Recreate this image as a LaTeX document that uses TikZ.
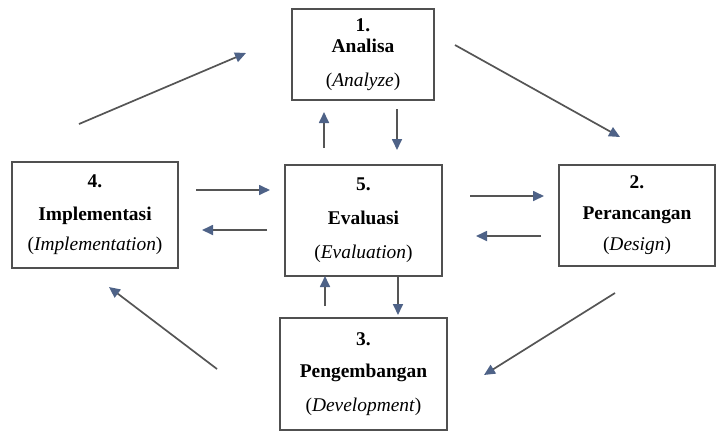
\documentclass[tikz,border=0pt]{standalone}
\usepackage{fontspec}
\setmainfont{Liberation Serif}
\usetikzlibrary{arrows.meta, positioning}
\definecolor{linegray}{RGB}{85,85,85}
\definecolor{tipblue}{RGB}{78,98,135}
\definecolor{boxgray}{RGB}{80,80,80}

\begin{document}
\begin{tikzpicture}[x=1bp,y=-1bp,
	phase/.style={draw=boxgray, line width=1.6bp, align=center, inner sep=0pt,
		font=\fontsize{19.5}{22}\selectfont},
	flow/.style={draw=linegray, line width=1.7bp,
		-{Triangle[length=11bp,width=10bp,fill=tipblue,color=tipblue]}}]
	\useasboundingbox (0,0) rectangle (719,432);

	% Phase boxes
	\node[phase, minimum width=142bp, minimum height=91bp] (analisa) at (363,54.5)
		{\textbf{1.}\\[-1pt]\textbf{Analisa}\\[12pt](\textit{Analyze})};
	\node[phase, minimum width=156bp, minimum height=101bp] (desain) at (637,215.5)
		{\textbf{2.}\\[9pt]\textbf{Perancangan}\\[9pt](\textit{Design})};
	\node[phase, minimum width=167bp, minimum height=112bp] (kembang) at (363.5,374)
		{\textbf{3.}\\[10pt]\textbf{Pengembangan}\\[12pt](\textit{Development})};
	\node[phase, minimum width=166bp, minimum height=106bp] (implement) at (95,215)
		{\textbf{4.}\\[11pt]\textbf{Implementasi}\\[8pt](\textit{Implementation})};
	\node[phase, minimum width=157bp, minimum height=111bp] (evaluasi) at (363.5,220.5)
		{\textbf{5.}\\[12pt]\textbf{Evaluasi}\\[12pt](\textit{Evaluation})};

	% Cycle arrows
	\coordinate (cycA1) at (79,124);   \coordinate (cycA2) at (246,53);
	\coordinate (cycB1) at (455,45);   \coordinate (cycB2) at (620,137);
	\coordinate (cycC1) at (615,293);  \coordinate (cycC2) at (484,375);
	\coordinate (cycD1) at (217,369);  \coordinate (cycD2) at (109,287);
	\draw[flow] (cycA1) -- (cycA2);
	\draw[flow] (cycB1) -- (cycB2);
	\draw[flow] (cycC1) -- (cycC2);
	\draw[flow] (cycD1) -- (cycD2);

	% Arrows to and from evaluation
	\coordinate (evR1) at (470,196);  \coordinate (evR2) at (544,196);
	\coordinate (evR3) at (541,236);  \coordinate (evR4) at (476,236);
	\coordinate (evL1) at (196,190);  \coordinate (evL2) at (270,190);
	\coordinate (evL3) at (267,230);  \coordinate (evL4) at (202,230);
	\coordinate (evT1) at (324,148);  \coordinate (evT2) at (324,112);
	\coordinate (evT3) at (397,109);  \coordinate (evT4) at (397,150);
	\coordinate (evB1) at (325,306);  \coordinate (evB2) at (325,276);
	\coordinate (evB3) at (398,277);  \coordinate (evB4) at (398,315);
	\draw[flow] (evR1) -- (evR2);
	\draw[flow] (evR3) -- (evR4);
	\draw[flow] (evL1) -- (evL2);
	\draw[flow] (evL3) -- (evL4);
	\draw[flow] (evT1) -- (evT2);
	\draw[flow] (evT3) -- (evT4);
	\draw[flow] (evB1) -- (evB2);
	\draw[flow] (evB3) -- (evB4);
\end{tikzpicture}
\end{document}
